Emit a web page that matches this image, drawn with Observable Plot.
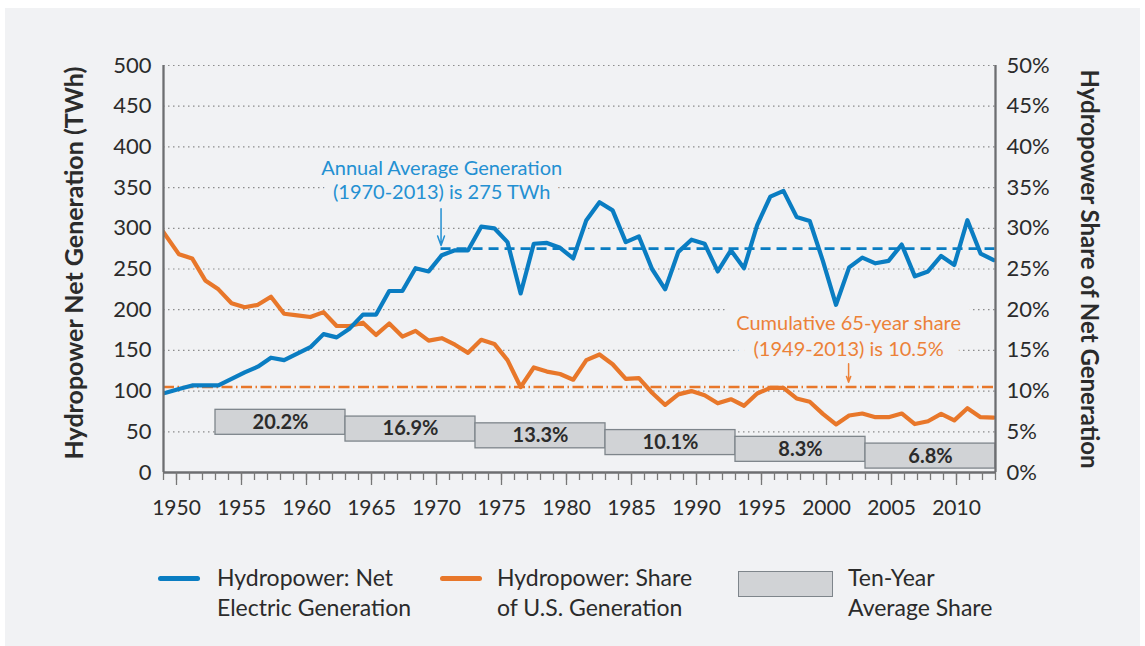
<!DOCTYPE html>
<html><head><meta charset="utf-8">
<script src="https://cdn.jsdelivr.net/npm/d3@7"></script>
<script src="https://cdn.jsdelivr.net/npm/@observablehq/plot@0.6"></script>
<style>
body{margin:0;background:#fff;font-family:Lato,"Open Sans",sans-serif;}
#panel{position:absolute;left:5px;top:8px;width:1135px;height:638px;background:#f1f2f4;}
#chart{position:absolute;left:0;top:0;}
#legend{position:absolute;left:0;top:0;width:1145px;height:646px;pointer-events:none;}
.sw{position:absolute;}
.lt{position:absolute;font-size:23px;line-height:30px;color:#2b2b2b;white-space:nowrap;}
</style></head><body>
<div id="panel"></div>
<div id="chart"></div>
<div id="legend"></div>
<script>
// ---- data ----
const years = d3.range(1949, 2014);
const generationTWh = [
  95, 98, 102.5, 107, 107, 107, 115, 123, 130, 141,
  138, 146, 154, 170, 166, 177, 194, 194, 223, 223,
  251, 247, 267, 273, 273, 302, 300, 283, 220, 281,
  282, 276, 263, 310, 332, 322, 283, 290, 250, 225,
  271, 286, 281, 247, 273, 251, 304, 339, 346, 314,
  309, 260, 206, 252, 264, 257, 260, 280, 241, 247,
  266, 255, 310, 269, 261
];
const sharePct = [
  31.5, 29.1, 26.8, 26.3, 23.6, 22.5, 20.8, 20.3, 20.6, 21.6,
  19.5, 19.3, 19.1, 19.7, 18.0, 18.0, 18.4, 16.9, 18.3, 16.7,
  17.4, 16.2, 16.5, 15.7, 14.7, 16.3, 15.8, 13.8, 10.5, 12.9,
  12.4, 12.1, 11.4, 13.8, 14.5, 13.3, 11.5, 11.6, 9.8, 8.3,
  9.6, 10.0, 9.5, 8.5, 9.0, 8.2, 9.7, 10.4, 10.4, 9.1,
  8.7, 7.2, 5.9, 7.0, 7.25, 6.8, 6.8, 7.25, 5.95, 6.3,
  7.2, 6.4, 7.9, 6.8, 6.75
];
const decadeEndYears = [1963, 1973, 1983, 1993, 2003, 2013];
const decadeSharePct = [20.2, 16.9, 13.3, 10.1, 8.3, 6.8];
const avgGeneration = 275;      // TWh, 1970-2013
const cumulativeShare = 10.5;   // %, 1949-2013
const xTickLabels = [1950, 1955, 1960, 1965, 1970, 1975, 1980, 1985, 1990, 1995, 2000, 2005, 2010];
const leftTicks = [0, 50, 100, 150, 200, 250, 300, 350, 400, 450, 500];
const blueNote = ["Annual Average Generation", "(1970-2013) is 275 TWh"];
const orangeNote = ["Cumulative 65-year share", "(1949-2013) is 10.5%"];
const legendItems = [
  {kind: "gen", text: "Hydropower: Net<br>Electric Generation"},
  {kind: "share", text: "Hydropower: Share<br>of U.S. Generation"},
  {kind: "box", text: "Ten-Year<br>Average Share"}
];

// ---- styles ----
const BLUE = "#0a7dc2", ORANGE = "#e8772a", BG = "#f1f2f4";
const BLUE_TXT = "#2490d2", ORANGE_TXT = "#ec8138";
const AXIS = "#6d6e71", INK = "#2b2b2b";
// the source drew its yearly points on a slightly wider grid than its axis
const toAxis = y => 1948.17 + (y - 1949) * 1.0108;

const series = years.map((year, i) => ({year, gen: generationTWh[i], share: sharePct[i]}));
const decades = decadeEndYears.map((end, i) => ({end, share: decadeSharePct[i], i}));
const boxTop = d => 77 - d.i * 8.3, boxH = 30.7;

// annotation lines (value-space anchors of each text line)
const blueLines = blueNote.map((t, i) => ({t, x: 1970.4, y: 365.5 - i * 29.5}));
const orangeLines = orangeNote.map((t, i) => ({t, x: 2001.7, y: 175.5 - i * 32}));
const noteText = (lines, fill) => Plot.text(lines, {x: "x", y: "y", text: "t", fill, fontSize: 20, lineAnchor: "bottom"});
const noteHalo = (lines, w) => Plot.text(lines, {x: "x", y: "y", text: "t", fill: BG, stroke: BG, strokeWidth: w, strokeLinejoin: "round", fontSize: 20, lineAnchor: "bottom"});

const chart = Plot.plot({
  width: 1145, height: 530,
  marginLeft: 163, marginRight: 150, marginTop: 65, marginBottom: 58,
  x: {domain: [1949, 2013], label: null},
  y: {domain: [0, 500], label: null},
  style: {background: "transparent", fontFamily: "Lato, 'Open Sans', sans-serif", color: INK},
  marks: [
    Plot.gridY(leftTicks.filter(t => t > 0), {stroke: "#8c8c8c", strokeOpacity: 1, strokeWidth: 1.2, strokeDasharray: "1.5,3.5"}),
    noteHalo(blueLines, 20),
    noteHalo(orangeLines, 32),
    noteText(blueLines, BLUE_TXT),
    noteText(orangeLines, ORANGE_TXT),
    Plot.rect(decades, {
      x1: d => d.end - 10, x2: "end",
      y1: d => boxTop(d) - boxH, y2: d => boxTop(d),
      fill: "#d1d3d6", stroke: "#7e858b", strokeWidth: 1.3}),
    Plot.text(decades, {
      x: d => d.end - 5, y: d => boxTop(d) - boxH / 2,
      text: d => d.share.toFixed(1) + "%", fontWeight: "bold", fontSize: 20, fill: INK}),
    Plot.ruleY([cumulativeShare * 10], {x1: 1949, x2: 2013, stroke: ORANGE, strokeWidth: 2.6, strokeDasharray: "11,3.5,1.5,3.5"}),
    Plot.ruleY([avgGeneration], {x1: 1970.35, x2: 2013, stroke: BLUE, strokeWidth: 2.6, strokeDasharray: "10,6"}),
    Plot.arrow([0], {x1: 1970.35, x2: 1970.35, y1: 324, y2: 279, stroke: BLUE_TXT, strokeWidth: 1.5, headLength: 10, headAngle: 40}),
    Plot.arrow([0], {x1: 2001.7, x2: 2001.7, y1: 133.5, y2: 111, stroke: ORANGE_TXT, strokeWidth: 1.5, headLength: 9, headAngle: 40}),
    Plot.line(series, {x: d => toAxis(d.year), y: d => d.share * 10, stroke: ORANGE, strokeWidth: 4.2, clip: true}),
    Plot.line(series, {x: d => toAxis(d.year), y: "gen", stroke: BLUE, strokeWidth: 4.2, clip: true}),
    Plot.ruleX([1949, 2013], {stroke: AXIS, strokeWidth: 2.3}),
    Plot.ruleY([0], {stroke: AXIS, strokeWidth: 2.3}),
    Plot.axisX({ticks: years, tickSize: 8, tickFormat: () => "", stroke: "#777", strokeWidth: 1.3, label: null}),
    Plot.axisX({ticks: xTickLabels, tickSize: 13, tickPadding: 15, tickFormat: d => String(d), fontSize: 21, stroke: "#777", strokeWidth: 1.3, label: null}),
    Plot.axisY({ticks: leftTicks, tickSize: 0, tickPadding: 12, fontSize: 22, label: null}),
    Plot.axisY({anchor: "right", ticks: leftTicks, tickSize: 0, tickPadding: 11, fontSize: 22, tickFormat: d => (d / 10) + "%", label: null}),
    Plot.text(["Hydropower Net Generation (TWh)"], {frameAnchor: "left", textAnchor: "middle", rotate: -90, dx: -89, dy: -6, fontSize: 25, fontWeight: "bold", fill: INK}),
    Plot.text(["Hydropower Share of Net Generation"], {frameAnchor: "right", textAnchor: "middle", rotate: 90, dx: 93, fontSize: 24, fontWeight: "bold", fill: INK})
  ]
});
document.getElementById("chart").append(chart);

// ---- legend ----
const leg = document.getElementById("legend");
const swatchPos = [{left: 158, text: 217}, {left: 440, text: 497}, {left: 738, text: 848}];
legendItems.forEach((it, i) => {
  const p = swatchPos[i];
  const sw = document.createElement("div");
  sw.className = "sw";
  if (it.kind === "box") {
    Object.assign(sw.style, {left: p.left + "px", top: "571px", width: "93px", height: "24px",
      background: "#d1d3d6", border: "1.5px solid #7e858b"});
  } else {
    Object.assign(sw.style, {left: p.left + "px", top: "576px", width: "42px", height: "5px",
      borderRadius: "3px", background: it.kind === "gen" ? BLUE : ORANGE});
  }
  leg.append(sw);
  const t = document.createElement("div");
  t.className = "lt";
  t.style.left = p.text + "px";
  t.style.top = "562px";
  t.innerHTML = it.text;
  leg.append(t);
});
</script>
</body></html>
